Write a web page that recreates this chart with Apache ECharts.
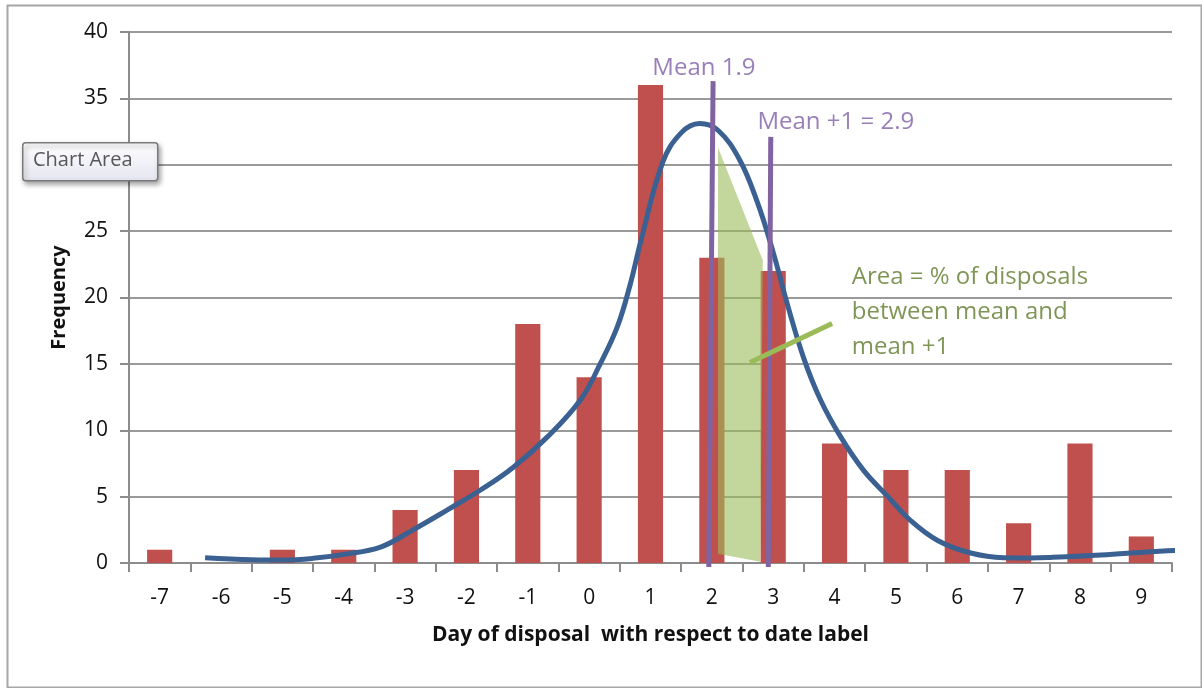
<!DOCTYPE html>
<html lang="en">
<head>
    <meta charset="UTF-8">
    <title>Day of disposal</title>
    <script src="https://cdn.jsdelivr.net/npm/echarts@6/dist/echarts.min.js"></script>
    <style>
        html, body { margin: 0; padding: 0; background: #fff; }
        #main { width: 1202px; height: 688px; }
    </style>
</head>
<body>
	<div id="main"></div>
	<script>
	    // categories and bar heights
	    var days = ['-7', '-6', '-5', '-4', '-3', '-2', '-1', '0', '1', '2', '3', '4', '5', '6', '7', '8', '9'];
	    var freq = [1, 0, 1, 1, 4, 7, 18, 14, 36, 23, 22, 9, 7, 7, 3, 9, 2];
	    var yTicks = { min: 0, max: 40, step: 5 };

	    // fitted curve, [day, frequency]
	    var curve = [
	        [-6.26, 0.4], [-5.5, 0.25], [-5, 0.22], [-4.5, 0.35], [-4, 0.65], [-3.4, 1.2],
	        [-2.87, 2.5], [-2.31, 4.0], [-1.77, 5.5], [-1.24, 7.2], [-0.68, 9.5], [-0.14, 12.3],
	        [0.18, 15.0], [0.46, 17.8], [0.67, 21.0], [0.84, 24.2], [1.2, 30.2], [1.5, 32.4],
	        [1.8, 33.1], [2.1, 32.6], [2.45, 30.4], [2.74, 27.2], [3.0, 23.4], [3.23, 19.5],
	        [3.5, 15.4], [3.77, 12.3], [4.1, 9.5], [4.47, 7.0], [4.87, 5.0], [5.24, 3.2],
	        [5.68, 1.7], [6.22, 0.75], [6.76, 0.4], [7.2, 0.38], [7.52, 0.42], [8.34, 0.6],
	        [9.16, 0.85], [9.97, 1.05]
	    ];

	    // hand drawn annotations, in chart units
	    var meanLine = [[2.02, 36.3], [1.95, -0.3]];
	    var meanPlusLine = [[2.96, 32.1], [2.92, -0.3]];
	    var greenArea = [[2.1, 31.3], [2.83, 22.8], [2.79, 0.1], [2.1, 0.7]];
	    var pointer = [[3.96, 18.05], [2.62, 15.1]];
	    var notes = [
	        { value: [1.87, 37.3], text: 'Mean 1.9', color: '#7f5fa6', align: 'center' },
	        { value: [4.02, 33.2], text: 'Mean +1 = 2.9', color: '#7f5fa6', align: 'center' },
	        { value: [4.28, 18.9], text: 'Area = % of disposals\nbetween mean and\nmean +1', color: '#5f7a2b', align: 'left' }
	    ];

	    var FONT = 'Open Sans';
	    var myChart = echarts.init(document.getElementById('main'));
	    var option = {
	        animation: false,
	        backgroundColor: '#fff',
	        grid: { left: 129, right: 30, top: 32, bottom: 125, containLabel: false },
	        xAxis: [
	            {
	                type: 'category',
	                data: days,
	                boundaryGap: true,
	                name: 'Day of disposal  with respect to date label',
	                nameLocation: 'middle',
	                nameGap: 62,
	                nameTextStyle: { fontFamily: FONT, fontSize: 21, fontWeight: 'bold', color: '#111' },
	                axisLine: { lineStyle: { color: '#8c8c8c', width: 2 } },
	                axisTick: { show: true, interval: 0, length: 9, lineStyle: { color: '#8c8c8c', width: 2 } },
	                axisLabel: { interval: 0, margin: 25, fontFamily: FONT, fontSize: 21, color: '#111' },
	                splitLine: { show: false }
	            },
	            {
	                type: 'value',
	                min: -7.5,
	                max: 9.5,
	                show: false
	            }
	        ],
	        yAxis: {
	            type: 'value',
	            min: yTicks.min,
	            max: yTicks.max,
	            interval: yTicks.step,
	            name: 'Frequency',
	            nameLocation: 'middle',
	            nameGap: 60,
	            nameTextStyle: { fontFamily: FONT, fontSize: 20, fontWeight: 'bold', color: '#111' },
	            axisLine: { show: true, onZero: false, lineStyle: { color: '#8c8c8c', width: 2 } },
	            axisTick: { show: true, length: 9, lineStyle: { color: '#8c8c8c', width: 2 } },
	            axisLabel: { margin: 21, fontFamily: FONT, fontSize: 21, color: '#111' },
	            splitLine: { lineStyle: { color: '#9a9a9a', width: 2 } }
	        },
	        series: [
	            {
	                name: 'Frequency',
	                type: 'bar',
	                data: freq,
	                barWidth: '41%',
	                itemStyle: { color: '#c0504d' },
	                z: 2
	            },
	            {
	                name: 'area',
	                type: 'custom',
	                xAxisIndex: 1,
	                data: [0],
	                renderItem: function (params, api) {
	                    var pts = greenArea.map(function (p) { return api.coord(p); });
	                    return {
	                        type: 'polygon',
	                        shape: { points: pts },
	                        style: { fill: 'rgba(155,187,89,0.6)' }
	                    };
	                },
	                clip: false,
	                z: 3
	            },
	            {
	                name: 'curve',
	                type: 'line',
	                xAxisIndex: 1,
	                data: curve,
	                smooth: 0.4,
	                showSymbol: false,
	                clip: false,
	                lineStyle: { color: '#3a6192', width: 5 },
	                z: 4
	            },
	            {
	                name: 'mean',
	                type: 'line',
	                xAxisIndex: 1,
	                data: meanLine,
	                showSymbol: false,
	                clip: false,
	                lineStyle: { color: '#8064a2', width: 5 },
	                z: 5
	            },
	            {
	                name: 'mean+1',
	                type: 'line',
	                xAxisIndex: 1,
	                data: meanPlusLine,
	                showSymbol: false,
	                clip: false,
	                lineStyle: { color: '#8064a2', width: 5 },
	                z: 5
	            },
	            {
	                name: 'pointer',
	                type: 'line',
	                xAxisIndex: 1,
	                data: pointer,
	                showSymbol: false,
	                clip: false,
	                lineStyle: { color: '#9bbb59', width: 5 },
	                z: 5
	            },
	            {
	                name: 'notes',
	                type: 'scatter',
	                xAxisIndex: 1,
	                symbolSize: 0,
	                clip: false,
	                z: 6,
	                data: notes.map(function (n) {
	                    return {
	                        value: n.value,
	                        label: {
	                            show: true,
	                            position: 'inside',
	                            formatter: n.text,
	                            align: n.align,
	                            verticalAlign: 'middle',
	                            color: n.color,
	                            fontFamily: FONT,
	                            fontSize: 24,
	                            lineHeight: 35
	                        }
	                    };
	                })
	            }
	        ],
	        graphic: [
	            {
	                type: 'rect',
	                left: 5,
	                top: 3,
	                shape: { width: 1194, height: 682 },
	                style: { fill: 'none', stroke: '#a6a6a6', lineWidth: 2 },
	                silent: true,
	                z: 0
	            },
	            {
	                type: 'rect',
	                left: 22,
	                top: 142,
	                z: 100,
	                shape: { width: 135, height: 38, r: 3 },
	                style: {
	                    fill: new echarts.graphic.LinearGradient(0, 0, 0, 1, [
	                        { offset: 0, color: '#ffffff' },
	                        { offset: 1, color: '#e4e5f0' }
	                    ]),
	                    stroke: '#7a7a7a',
	                    lineWidth: 1.5,
	                    shadowBlur: 5,
	                    shadowOffsetX: 2,
	                    shadowOffsetY: 3,
	                    shadowColor: 'rgba(0,0,0,0.35)'
	                }
	            },
	            {
	                type: 'text',
	                left: 33,
	                top: 150,
	                z: 101,
	                style: {
	                    text: 'Chart Area',
	                    fill: '#575757',
	                    fontFamily: FONT,
	                    fontSize: 20
	                }
	            }
	        ]
	    };
	    myChart.setOption(option);
	</script>
</body>
</html>
